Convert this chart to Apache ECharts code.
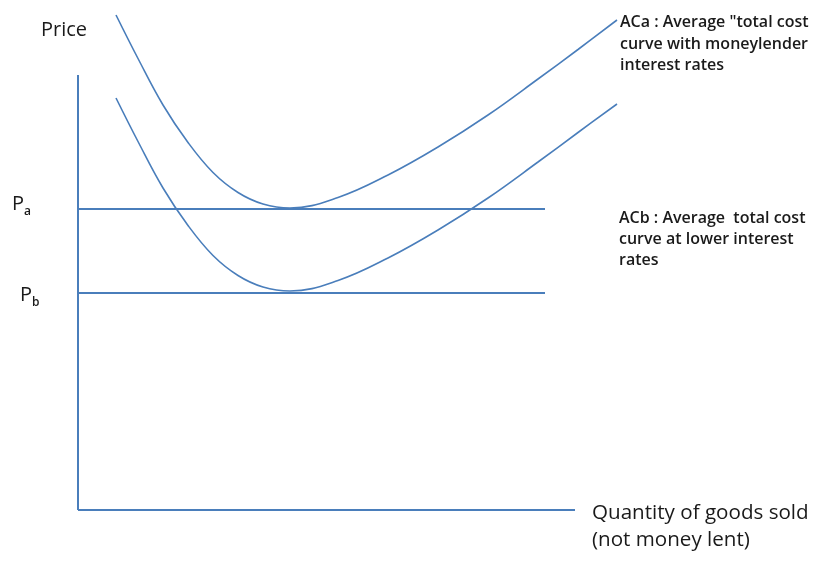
<!DOCTYPE html>
<html><head><meta charset="utf-8">
<script src="https://cdn.jsdelivr.net/npm/echarts@6/dist/echarts.min.js"></script>
<style>html,body{margin:0;padding:0;background:#fff}#c{width:815px;height:562px}</style>
</head><body><div id="c"></div>
<script>
// Quantity (x) and price (y) values in chart units
const acaQ = [7.6, 12, 17, 22, 27, 32, 37, 42.4, 52, 62, 72, 82, 92, 100, 107.8];
const acaP = [99, 90.3, 81, 73.5, 67.5, 63.5, 61.2, 60.4, 62.5, 67, 72.6, 79, 86.2, 92.1, 98];
const acbQ = [7.6, 12, 17, 22, 27, 32, 37, 42.4, 52, 62, 72, 82, 92, 100, 107.8];
const acbP = [82.4, 73.7, 64.4, 56.9, 50.9, 46.9, 44.6, 43.8, 45.9, 50.4, 56.0, 62.4, 69.6, 75.5, 81.2];
const priceA = 60.2;
const priceB = 43.4;
const priceLineEnd = 93.4;
const yAxisTop = 87;
const xAxisEnd = 99.4;

const blue = '#4a7ebb';
const zip = (xs, ys) => xs.map((x, i) => [x, ys[i]]);
const font = '"Open Sans"';
const ink = '#1a1a1a';

const chart = echarts.init(document.getElementById('c'));
chart.setOption({
  animation: false,
  grid: { left: 78, top: 10, width: 600, height: 500 },
  xAxis: { type: 'value', min: 0, max: 120, show: false },
  yAxis: { type: 'value', min: 0, max: 100, show: false },
  series: [
    { type: 'line', data: [[0, 0], [0, yAxisTop]], symbol: 'none', lineStyle: { color: blue, width: 2 } },
    { type: 'line', data: [[0, 0], [xAxisEnd, 0]], symbol: 'none', lineStyle: { color: blue, width: 2 } },
    { type: 'line', data: [[0, priceA], [priceLineEnd, priceA]], symbol: 'none', lineStyle: { color: blue, width: 2 } },
    { type: 'line', data: [[0, priceB], [priceLineEnd, priceB]], symbol: 'none', lineStyle: { color: blue, width: 2 } },
    { type: 'line', data: zip(acaQ, acaP), smooth: 0.4, symbol: 'none', lineStyle: { color: blue, width: 1.6 } },
    { type: 'line', data: zip(acbQ, acbP), smooth: 0.4, symbol: 'none', lineStyle: { color: blue, width: 1.6 } }
  ],
  graphic: [
    { type: 'text', left: 41, top: 20, style: { text: 'Price', font: '20px ' + font, fill: ink } },
    { type: 'text', left: 12, top: 194, style: { text: '{p|P}{s|a}', rich: { p: { fontSize: 20, fontFamily: 'Open Sans', fill: ink }, s: { fontSize: 12, fontFamily: 'Open Sans', fontWeight: 600, padding: [15, 0, 0, 0], fill: ink } } } },
    { type: 'text', left: 20, top: 285, style: { text: '{p|P}{s|b}', rich: { p: { fontSize: 20, fontFamily: 'Open Sans', fill: ink }, s: { fontSize: 12, fontFamily: 'Open Sans', fontWeight: 600, padding: [15, 0, 0, 0], fill: ink } } } },
    { type: 'text', left: 592, top: 500, style: { text: 'Quantity of goods sold\n(not money lent)', font: '20.6px ' + font, lineHeight: 27, fill: ink } },
    { type: 'text', left: 620, top: 12, style: { text: 'ACa : Average "total cost\ncurve with moneylender\ninterest rates', font: '600 16px ' + font, lineHeight: 21.5, fill: ink } },
    { type: 'text', left: 619, top: 208, style: { text: 'ACb : Average  total cost\ncurve at lower interest\nrates', font: '600 16px ' + font, lineHeight: 21, fill: ink } }
  ]
});
</script></body></html>
